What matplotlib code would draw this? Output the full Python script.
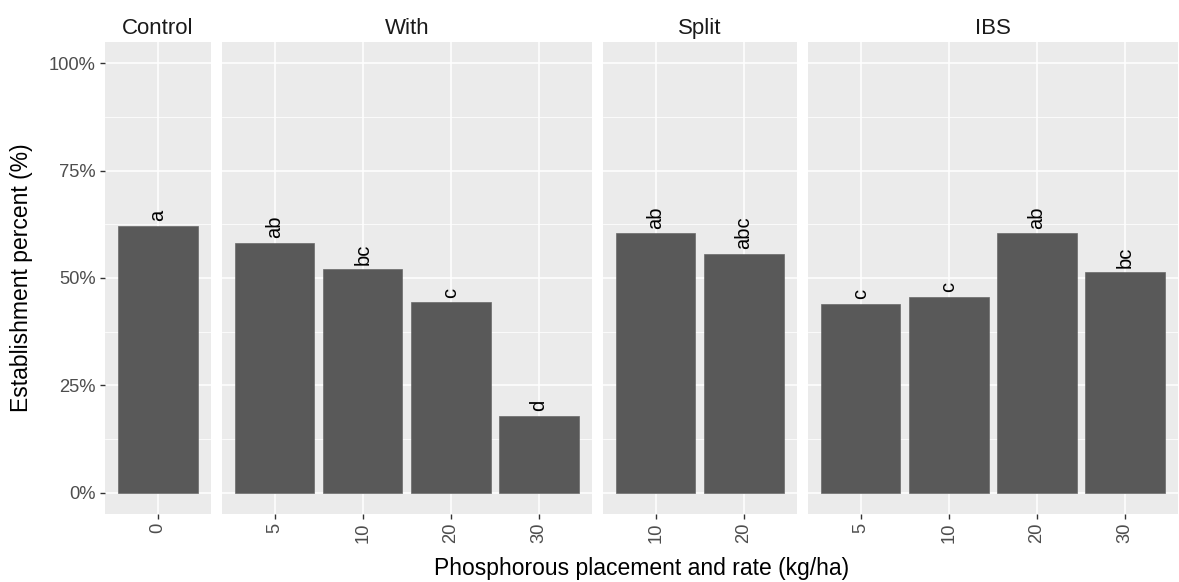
"""Establishment percent by phosphorous placement and rate."""
import matplotlib
matplotlib.use('Agg')
from matplotlib import pyplot as plt
from matplotlib.ticker import FixedLocator, PercentFormatter

plt.rcParams['font.family'] = ['Liberation Sans', 'DejaVu Sans']

placements = ['Control', 'With', 'Split', 'IBS']
rates = {
    'Control': ['0'],
    'With': ['5', '10', '20', '30'],
    'Split': ['10', '20'],
    'IBS': ['5', '10', '20', '30'],
}
establishment = {
    'Control': [0.622],
    'With': [0.581, 0.520, 0.443, 0.179],
    'Split': [0.604, 0.556],
    'IBS': [0.440, 0.455, 0.604, 0.513],
}
letters = {
    'Control': ['a'],
    'With': ['ab', 'bc', 'c', 'd'],
    'Split': ['ab', 'abc'],
    'IBS': ['c', 'c', 'ab', 'bc'],
}

PANEL_BG = '#EBEBEB'
BAR = '#595959'
TICK_TXT = '#4D4D4D'

W, H = 1179, 582
fig = plt.figure(figsize=(W / 100, H / 100), dpi=100)

left, right = 105 / W, 1178 / W
bottom, top = 1 - 514 / H, 1 - 42 / H
gap = 11 / W
widths = [len(rates[p]) - 1 + 1.2 for p in placements]
unit = (right - left - gap * (len(placements) - 1)) / sum(widths)

x0 = left
for i, p in enumerate(placements):
    w = widths[i] * unit
    ax = fig.add_axes([x0, bottom, w, top - bottom])
    x0 += w + gap
    ax.set_facecolor(PANEL_BG)
    for s in ax.spines.values():
        s.set_visible(False)
    xs = list(range(len(rates[p])))
    ax.bar(xs, establishment[p], width=0.9, color=BAR, zorder=3,
           edgecolor='#6a6a6a', linewidth=0.5)
    for x, v, lab in zip(xs, establishment[p], letters[p]):
        ax.annotate(lab, (x, v), xytext=(0, 3.5), textcoords='offset points',
                    rotation=90, ha='center', va='bottom', fontsize=14.5,
                    color='black', zorder=4)
    ax.set_xlim(-0.6, len(xs) - 1 + 0.6)
    ax.set_ylim(-0.05, 1.05)
    ax.set_xticks(xs)
    ax.set_xticklabels(rates[p], rotation=90, fontsize=13.2, color=TICK_TXT)
    ax.yaxis.set_major_locator(FixedLocator([0, 0.25, 0.5, 0.75, 1.0]))
    ax.yaxis.set_minor_locator(FixedLocator([0.125, 0.375, 0.625, 0.875]))
    ax.yaxis.set_major_formatter(PercentFormatter(1.0, decimals=0))
    ax.grid(True, which='major', color='white', lw=1.1, zorder=0)
    ax.grid(True, which='minor', axis='y', color='white', lw=0.55, zorder=0)
    ax.tick_params(axis='both', which='major', length=3.5, width=1,
                   color='#333333', pad=3)
    ax.tick_params(axis='y', which='minor', length=0)
    if i == 0:
        ax.tick_params(axis='y', labelsize=13.2, labelcolor=TICK_TXT)
    else:
        ax.tick_params(axis='y', which='both', left=False, labelleft=False)
    ax.set_title(p, fontsize=16, color='#1A1A1A', pad=6)

fig.text(left + (right - left) / 2, 13 / H,
         'Phosphorous placement and rate (kg/ha)',
         ha='center', va='center', fontsize=16.5)
fig.text(22 / W, (bottom + top) / 2, 'Establishment percent (%)',
         rotation=90, ha='center', va='center', fontsize=16.5)

fig.savefig('out.png', dpi=100)
plt.close('all')
